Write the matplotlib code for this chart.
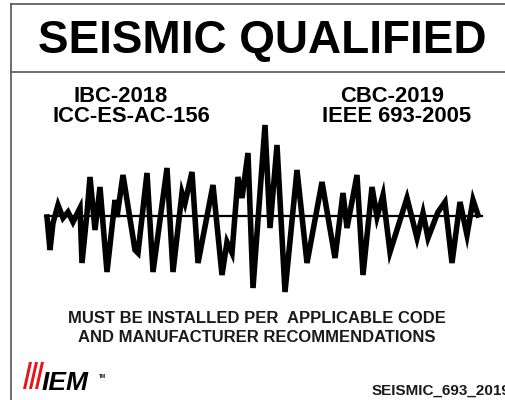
import matplotlib
matplotlib.use("Agg")
import matplotlib.pyplot as plt
from matplotlib.patches import Polygon

plt.rcParams['font.family'] = ['Liberation Sans', 'DejaVu Sans']

# Waveform data (time position, amplitude above baseline)
wave_t = [47, 50, 53, 58, 63, 68, 73, 80, 82, 87, 90, 95, 100, 107, 115, 117, 123,
          135, 138, 147, 153, 167, 173, 182, 185, 192, 198, 213, 222, 227, 232, 238,
          242, 248, 253, 265, 270, 277, 285, 297, 307, 322, 335, 343, 347, 357, 363,
          372, 377, 383, 390, 407, 417, 423, 428, 438, 445, 452, 460, 467, 473, 478]
wave_amp = [-1, -34, -7, 11, -2, 4, -6, 8, -47, 3, 39, -14, 29, -56, 16, -1, 41,
            -34, -37, 43, -56, 48, -56, 23, 13, 44, -47, 31, -59, -26, -37, 39,
            18, 63, -72, 91, -12, 71, -76, 46, -47, 34, -42, 23, -12, 41, -59,
            29, -1, 21, -36, 18, -22, 3, -22, 4, 14, -47, 14, -19, 16, 1]
baseline_span = [45, 482]

title = "SEISMIC QUALIFIED"
left_codes = ["IBC-2018", "ICC-ES-AC-156"]
right_codes = ["CBC-2019", "IEEE 693-2005"]
notice = ["MUST BE INSTALLED PER  APPLICABLE CODE", "AND MANUFACTURER RECOMMENDATIONS"]
part_no = "SEISMIC_693_2019"

W, H = 505, 400
fig = plt.figure(figsize=(W / 100, H / 100), dpi=100)
fig.patch.set_facecolor('white')
ax = fig.add_axes([0, 0, 1, 1])
ax.set_xlim(0, W)
ax.set_ylim(H, 0)
ax.axis('off')

# frame
ax.plot([11, 11], [4, 400], color='#555555', lw=1.2)
ax.plot([11, 505], [4, 4], color='#555555', lw=1.2)
ax.plot([11, 505], [72, 72], color='#555555', lw=1.2)

ax.text(262, 53, title, ha='center', va='baseline', fontsize=33,
        fontweight='bold', color='black')

for i, s in enumerate(left_codes):
    ax.text([121, 131][i], 102 + 20 * i, s, ha='center', va='baseline',
            fontsize=15.8, fontweight='bold', color='black')
for i, s in enumerate(right_codes):
    ax.text([392, 397][i], 102 + 20 * i, s, ha='center', va='baseline',
            fontsize=15.8, fontweight='bold', color='black')

for i, s in enumerate(notice):
    ax.text(257, 323 + 19 * i, s, ha='center', va='baseline', fontsize=12,
            fontweight='bold', color='#1a1a1a')

ax.text(372, 395, part_no, ha='left', va='baseline', fontsize=11,
        fontweight='bold', color='#1a1a1a', clip_on=False)

# logo: red stripes
for dx in [0, 6, 12]:
    ax.add_patch(Polygon([[29 + dx, 362], [32 + dx, 362], [26 + dx, 389], [23 + dx, 389]],
                         closed=True, color='#e8141b', lw=0))
ax.text(42, 390, "IEM", ha='left', va='baseline', fontsize=19, fontweight='bold',
        fontstyle='italic', color='black')
ax.text(99, 378, "TM", ha='left', va='baseline', fontsize=3.5, fontweight='bold',
        color='black')

# waveform
wax = fig.add_axes([0, 0, 1, 1])
wax.set_xlim(0, W)
wax.set_ylim(216 - H, 216)
wax.axis('off')
wax.patch.set_alpha(0)
wax.plot(baseline_span, [0, 0], color='black', lw=1.6)
wax.plot(wave_t, wave_amp, color='black', lw=4, solid_joinstyle='miter')

fig.savefig('out.png', dpi=100, facecolor='white')
